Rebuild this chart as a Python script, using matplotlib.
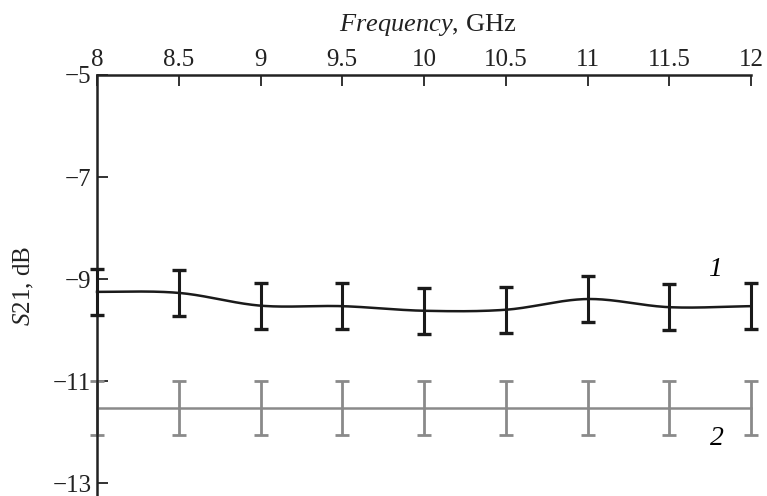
import numpy as np
import matplotlib
matplotlib.use("Agg")
import matplotlib.pyplot as plt

plt.rcParams['font.family'] = ['Liberation Serif', 'DejaVu Serif']
plt.rcParams['mathtext.fontset'] = 'custom'
plt.rcParams['mathtext.it'] = 'Liberation Serif:italic'
plt.rcParams['mathtext.rm'] = 'Liberation Serif'

freq = [8, 8.5, 9, 9.5, 10, 10.5, 11, 11.5, 12]
s21_1 = [-9.25, -9.27, -9.52, -9.53, -9.62, -9.60, -9.39, -9.55, -9.53]
err_1 = [0.45, 0.45, 0.45, 0.45, 0.45, 0.45, 0.45, 0.45, 0.45]
s21_2 = [-11.52, -11.52, -11.52, -11.52, -11.52, -11.52, -11.52, -11.52, -11.52]
err_2 = [0.53, 0.53, 0.53, 0.53, 0.53, 0.53, 0.53, 0.53, 0.53]
xticks = [8, 8.5, 9, 9.5, 10, 10.5, 11, 11.5, 12]
yticks = [-5, -7, -9, -11, -13]


def smooth(x, y, n=40):
    x = np.asarray(x, float); y = np.asarray(y, float)
    m = np.gradient(y, x)
    m[0] = 0.0
    xs, ys = [], []
    for i in range(len(x) - 1):
        h = x[i + 1] - x[i]
        t = np.linspace(0, 1, n)
        h00 = 2*t**3 - 3*t**2 + 1
        h10 = t**3 - 2*t**2 + t
        h01 = -2*t**3 + 3*t**2
        h11 = t**3 - t**2
        xs.append(x[i] + t*h)
        ys.append(h00*y[i] + h10*h*m[i] + h01*y[i+1] + h11*h*m[i+1])
    return np.concatenate(xs), np.concatenate(ys)


fig = plt.figure(figsize=(7.67, 4.96), dpi=100)
ax = fig.add_axes([97/767, 0, 654/767, 421/496])

gray = '#8a8a8a'
eb2 = ax.errorbar(freq, s21_2, yerr=err_2, fmt='none', ecolor=gray, elinewidth=2.0,
                  capsize=5, capthick=2.0, zorder=2)
ax.plot([freq[0], freq[-1]], [s21_2[0], s21_2[-1]], color=gray, lw=1.8, zorder=2,
        clip_on=False)

eb1 = ax.errorbar(freq, s21_1, yerr=err_1, fmt='none', ecolor='#1a1a1a', elinewidth=2.2,
                  capsize=5, capthick=2.4, zorder=3)
for eb in (eb1, eb2):
    for art in eb.lines[1]:
        art.set_clip_on(False)
    for art in eb.lines[2]:
        art.set_clip_on(False)
sx, sy = smooth(freq, s21_1)
ax.plot(sx, sy, color='#1a1a1a', lw=1.8, zorder=3, clip_on=False)

ax.text(11.78, -8.82, '1', fontsize=20, style='italic', ha='center', va='center')
ax.text(11.79, -12.12, '2', fontsize=20, style='italic', ha='center', va='center')

ax.set_xlim(8, 12)
ax.set_ylim(-13.25, -5)
ax.xaxis.tick_top()
ax.xaxis.set_label_position('top')
ax.set_xticks(xticks)
ax.set_xticklabels([f'{v:g}' for v in xticks])
ax.set_yticks(yticks)
ax.set_yticklabels([f'\u2212{abs(v)}' for v in yticks])
ax.tick_params(axis='both', direction='in', length=8, width=1.3, labelsize=18,
               color='#222222', labelcolor='#222222')
ax.tick_params(axis='x', pad=3)
ax.tick_params(axis='y', pad=4)

for s in ['right', 'bottom']:
    ax.spines[s].set_visible(False)
for s in ['left', 'top']:
    ax.spines[s].set_linewidth(1.8)
    ax.spines[s].set_color('#222222')

ax.set_xlabel(r'$\mathit{Frequency}$, GHz', fontsize=19, color='#222222')
ax.xaxis.set_label_coords(0.506, 1.105)
ax.set_ylabel(r'$\mathit{S}$21, dB', fontsize=18, color='#222222')
ax.yaxis.set_label_coords(-0.093, 0.5)

fig.savefig('out.png', dpi=100)
